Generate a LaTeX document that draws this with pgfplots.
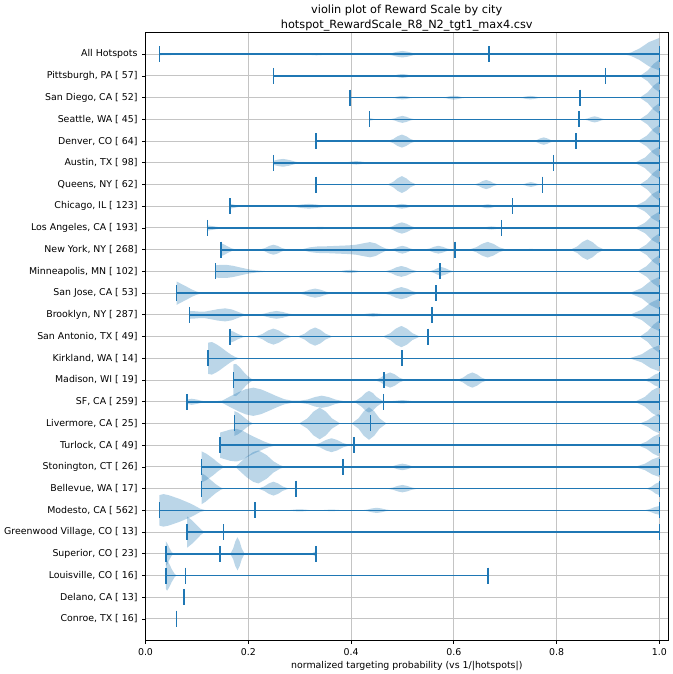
\documentclass[border=0pt]{standalone}
\usepackage{fontspec}
\setmainfont{DejaVu Sans}
\usepackage{pgfplots}
\usepackage{pgfplotstable}
\pgfplotsset{compat=1.18}
\definecolor{vblue}{HTML}{1F77B4}
\definecolor{gridgray}{HTML}{C4C4C4}

\pgfplotstableread[row sep=\\]{x w\\
0.027 0.05\\ 0.06 0.03\\ 0.1 0\\
0.303 0\\ 0.315 0.016\\ 0.324 0.038\\ 0.333 0.05\\ 0.342 0.038\\ 0.351 0.016\\ 0.363 0\\
0.465 0\\ 0.479 0.048\\ 0.4895 0.113\\ 0.5 0.15\\ 0.5105 0.113\\ 0.521 0.048\\ 0.535 0\\
0.93 0\\ 0.945 0.08\\ 0.961 0.26\\ 0.98 0.56\\ 1 0.75\\
}\tAll
\pgfplotstableread[row sep=\\]{x w\\
0.25 0\\ 0.475 0\\ 0.485 0.029\\ 0.4925 0.068\\ 0.5 0.09\\ 0.5075 0.068\\ 0.515 0.029\\ 0.525 0\\
0.962 0\\ 0.977 0.24\\ 0.989 0.56\\ 1 0.75\\
}\tPit
\pgfplotstableread[row sep=\\]{x w\\
0.398 0.02\\ 0.41 0\\
0.475 0\\ 0.485 0.026\\ 0.4925 0.06\\ 0.5 0.08\\ 0.5075 0.06\\ 0.515 0.026\\ 0.525 0\\
0.575 0\\ 0.585 0.029\\ 0.5925 0.068\\ 0.6 0.09\\ 0.6075 0.068\\ 0.615 0.029\\ 0.625 0\\
0.724 0\\ 0.734 0.026\\ 0.7415 0.06\\ 0.749 0.08\\ 0.7565 0.06\\ 0.764 0.026\\ 0.774 0\\
0.962 0\\ 0.977 0.24\\ 0.989 0.56\\ 1 0.75\\
}\tSD
\pgfplotstableread[row sep=\\]{x w\\
0.436 0.06\\ 0.442 0.03\\ 0.45 0\\
0.475 0\\ 0.485 0.051\\ 0.4925 0.12\\ 0.5 0.16\\ 0.5075 0.12\\ 0.515 0.051\\ 0.525 0\\
0.852 0\\ 0.8608 0.045\\ 0.8674 0.105\\ 0.874 0.14\\ 0.8806 0.105\\ 0.8872 0.045\\ 0.896 0\\
0.962 0\\ 0.977 0.24\\ 0.989 0.56\\ 1 0.75\\
}\tSea
\pgfplotstableread[row sep=\\]{x w\\
0.333 0\\
0.471 0\\ 0.4822 0.096\\ 0.4906 0.225\\ 0.499 0.3\\ 0.5074 0.225\\ 0.5158 0.096\\ 0.527 0\\
0.753 0\\ 0.7618 0.054\\ 0.7684 0.128\\ 0.775 0.17\\ 0.7816 0.128\\ 0.7882 0.054\\ 0.797 0\\
0.958 0\\ 0.975 0.24\\ 0.988 0.56\\ 1 0.75\\
}\tDen
\pgfplotstableread[row sep=\\]{x w\\
0.25 0.1\\ 0.258 0.15\\ 0.268 0.18\\ 0.28 0.13\\ 0.292 0.05\\ 0.305 0\\
0.38 0\\ 0.392 0.026\\ 0.401 0.06\\ 0.41 0.08\\ 0.419 0.06\\ 0.428 0.026\\ 0.44 0\\
0.952 0\\ 0.972 0.24\\ 0.986 0.56\\ 1 0.75\\
}\tAus
\pgfplotstableread[row sep=\\]{x w\\
0.333 0\\
0.471 0\\ 0.4822 0.125\\ 0.4906 0.29\\ 0.499 0.39\\ 0.5074 0.29\\ 0.5158 0.125\\ 0.527 0\\
0.639 0\\ 0.6486 0.067\\ 0.6558 0.158\\ 0.663 0.21\\ 0.6702 0.158\\ 0.6774 0.067\\ 0.687 0\\
0.73 0\\ 0.738 0.035\\ 0.744 0.083\\ 0.75 0.11\\ 0.756 0.083\\ 0.762 0.035\\ 0.77 0\\
0.962 0\\ 0.977 0.24\\ 0.989 0.56\\ 1 0.75\\
}\tQue
\pgfplotstableread[row sep=\\]{x w\\
0.165 0.11\\ 0.175 0.06\\ 0.188 0\\
0.273 0\\ 0.291 0.035\\ 0.3045 0.083\\ 0.318 0.11\\ 0.3315 0.083\\ 0.345 0.035\\ 0.363 0\\
0.474 0\\ 0.484 0.035\\ 0.4915 0.083\\ 0.499 0.11\\ 0.5065 0.083\\ 0.514 0.035\\ 0.524 0\\
0.644 0\\ 0.6528 0.029\\ 0.6594 0.068\\ 0.666 0.09\\ 0.6726 0.068\\ 0.6792 0.029\\ 0.688 0\\
0.952 0\\ 0.972 0.24\\ 0.986 0.56\\ 1 0.75\\
}\tChi
\pgfplotstableread[row sep=\\]{x w\\
0.121 0.12\\ 0.132 0.08\\ 0.145 0.03\\ 0.158 0\\
0.28 0\\ 0.304 0.016\\ 0.322 0.038\\ 0.34 0.05\\ 0.358 0.038\\ 0.376 0.016\\ 0.4 0\\
0.469 0\\ 0.481 0.083\\ 0.49 0.195\\ 0.499 0.26\\ 0.508 0.195\\ 0.517 0.083\\ 0.529 0\\
0.648 0\\ 0.658 0.022\\ 0.6655 0.053\\ 0.673 0.07\\ 0.6805 0.053\\ 0.688 0.022\\ 0.698 0\\
0.952 0\\ 0.972 0.24\\ 0.986 0.56\\ 1 0.75\\
}\tLA
\pgfplotstableread[row sep=\\]{x w\\
0.147 0.3\\ 0.153 0.24\\ 0.16 0.15\\ 0.168 0.06\\ 0.178 0\\
0.221 0\\ 0.2322 0.074\\ 0.2406 0.173\\ 0.249 0.23\\ 0.2574 0.173\\ 0.2658 0.074\\ 0.277 0\\
0.3 0\\ 0.31 0.05\\ 0.32 0.11\\ 0.335 0.15\\ 0.355 0.16\\ 0.375 0.18\\ 0.395 0.2\\ 0.41 0.23\\ 0.425 0.3\\ 0.437 0.35\\ 0.448 0.29\\ 0.458 0.16\\ 0.467 0.06\\ 0.476 0.02\\
0.485 0.06\\ 0.4925 0.135\\ 0.5 0.18\\ 0.5075 0.135\\ 0.515 0.058\\ 0.525 0\\
0.542 0\\ 0.5532 0.058\\ 0.5616 0.135\\ 0.57 0.18\\ 0.5784 0.135\\ 0.5868 0.058\\ 0.598 0\\
0.629 0\\ 0.6438 0.115\\ 0.6549 0.27\\ 0.666 0.36\\ 0.6771 0.27\\ 0.6882 0.115\\ 0.703 0\\
0.73 0\\ 0.75 0.04\\ 0.77 0\\
0.827 0\\ 0.8402 0.15\\ 0.8501 0.353\\ 0.86 0.47\\ 0.8699 0.353\\ 0.8798 0.15\\ 0.893 0\\
0.958 0\\ 0.975 0.24\\ 0.988 0.56\\ 1 0.75\\
}\tNY
\pgfplotstableread[row sep=\\]{x w\\
0.136 0.28\\ 0.145 0.3\\ 0.158 0.3\\ 0.17 0.26\\ 0.185 0.18\\ 0.2 0.1\\ 0.215 0.05\\ 0.235 0.015\\ 0.25 0\\
0.368 0\\ 0.38 0.022\\ 0.389 0.053\\ 0.398 0.07\\ 0.407 0.053\\ 0.416 0.022\\ 0.428 0\\
0.465 0\\ 0.4782 0.08\\ 0.4881 0.188\\ 0.498 0.25\\ 0.5079 0.188\\ 0.5178 0.08\\ 0.531 0\\
0.551 0\\ 0.561 0.064\\ 0.5685 0.15\\ 0.576 0.2\\ 0.5835 0.15\\ 0.591 0.064\\ 0.601 0\\
0.958 0\\ 0.975 0.24\\ 0.988 0.56\\ 1 0.75\\
}\tMin
\pgfplotstableread[row sep=\\]{x w\\
0.0605 0.54\\ 0.07 0.42\\ 0.08 0.3\\ 0.09 0.17\\ 0.1 0.07\\ 0.112 0\\
0.294 0\\ 0.3084 0.067\\ 0.3192 0.158\\ 0.33 0.21\\ 0.3408 0.158\\ 0.3516 0.067\\ 0.366 0\\
0.462 0\\ 0.4764 0.09\\ 0.4872 0.21\\ 0.498 0.28\\ 0.5088 0.21\\ 0.5196 0.09\\ 0.534 0\\
0.942 0\\ 0.966 0.24\\ 0.983 0.56\\ 1 0.75\\
}\tSJ
\pgfplotstableread[row sep=\\]{x w\\
0.086 0.18\\ 0.095 0.17\\ 0.105 0.15\\ 0.115 0.15\\ 0.125 0.19\\ 0.14 0.26\\ 0.155 0.3\\ 0.168 0.25\\ 0.18 0.14\\ 0.19 0.05\\ 0.2 0\\
0.215 0\\ 0.231 0.058\\ 0.243 0.135\\ 0.255 0.18\\ 0.267 0.135\\ 0.279 0.058\\ 0.295 0\\
0.408 0\\ 0.422 0.026\\ 0.4325 0.06\\ 0.443 0.08\\ 0.4535 0.06\\ 0.464 0.026\\ 0.478 0\\
0.942 0\\ 0.966 0.24\\ 0.983 0.56\\ 1 0.75\\
}\tBro
\pgfplotstableread[row sep=\\]{x w\\
0.165 0.28\\ 0.172 0.22\\ 0.18 0.12\\ 0.19 0.03\\ 0.198 0\\
0.213 0\\ 0.2274 0.118\\ 0.2382 0.278\\ 0.249 0.37\\ 0.2598 0.278\\ 0.2706 0.118\\ 0.285 0\\
0.296 0\\ 0.3096 0.134\\ 0.3198 0.315\\ 0.33 0.42\\ 0.3402 0.315\\ 0.3504 0.134\\ 0.364 0\\
0.462 0\\ 0.4764 0.157\\ 0.4872 0.368\\ 0.498 0.49\\ 0.5088 0.368\\ 0.5196 0.157\\ 0.534 0\\
0.962 0\\ 0.977 0.24\\ 0.989 0.56\\ 1 0.75\\
}\tSA
\pgfplotstableread[row sep=\\]{x w\\
0.122 0.72\\ 0.129 0.75\\ 0.137 0.66\\ 0.145 0.54\\ 0.158 0.31\\ 0.167 0.16\\ 0.175 0.06\\ 0.183 0\\
0.942 0\\ 0.966 0.19\\ 0.983 0.45\\ 1 0.6\\
}\tKir
\pgfplotstableread[row sep=\\]{x w\\
0.171 0.72\\ 0.176 0.74\\ 0.183 0.6\\ 0.19 0.4\\ 0.198 0.2\\ 0.206 0.06\\ 0.213 0\\
0.446 0\\ 0.458 0.112\\ 0.467 0.263\\ 0.476 0.35\\ 0.485 0.263\\ 0.494 0.112\\ 0.506 0\\
0.606 0\\ 0.618 0.112\\ 0.627 0.263\\ 0.636 0.35\\ 0.645 0.263\\ 0.654 0.112\\ 0.666 0\\
0.97 0\\ 0.982 0.106\\ 0.991 0.248\\ 1 0.33\\
}\tMad
\pgfplotstableread[row sep=\\]{x w\\
0.081 0.1\\ 0.09 0.14\\ 0.1 0.1\\ 0.11 0.04\\ 0.12 0.01\\ 0.135 0.02\\ 0.15 0.06\\ 0.165 0.25\\ 0.18 0.43\\ 0.195 0.58\\ 0.21 0.65\\ 0.225 0.57\\ 0.24 0.42\\ 0.255 0.26\\ 0.27 0.12\\ 0.285 0.05\\ 0.3 0.05\\
0.315 0.1\\ 0.33 0.22\\ 0.343 0.28\\ 0.356 0.22\\ 0.37 0.1\\ 0.385 0.03\\ 0.4 0.02\\
0.41 0.06\\ 0.42 0.22\\ 0.428 0.41\\ 0.435 0.5\\ 0.442 0.41\\ 0.45 0.22\\ 0.46 0.06\\ 0.47 0.02\\
0.485 0.04\\ 0.5 0.08\\ 0.515 0.04\\ 0.53 0\\
0.952 0\\ 0.972 0.224\\ 0.986 0.525\\ 1 0.7\\
}\tSF
\pgfplotstableread[row sep=\\]{x w\\
0.173 0.57\\ 0.18 0.5\\ 0.187 0.38\\ 0.195 0.22\\ 0.203 0.08\\ 0.21 0\\
0.299 0\\ 0.315 0.234\\ 0.327 0.548\\ 0.339 0.73\\ 0.351 0.548\\ 0.363 0.234\\ 0.379 0\\
0.401 0\\ 0.4146 0.24\\ 0.4248 0.563\\ 0.435 0.75\\ 0.4452 0.563\\ 0.4554 0.24\\ 0.469 0\\
0.962 0\\ 0.977 0.144\\ 0.989 0.338\\ 1 0.45\\
}\tLiv
\pgfplotstableread[row sep=\\]{x w\\
0.145 0.58\\ 0.155 0.65\\ 0.165 0.72\\ 0.177 0.75\\ 0.188 0.68\\ 0.2 0.52\\ 0.21 0.4\\ 0.22 0.29\\ 0.23 0.18\\ 0.24 0.09\\ 0.25 0.03\\ 0.26 0\\
0.325 0\\ 0.3398 0.102\\ 0.3509 0.24\\ 0.362 0.32\\ 0.3731 0.24\\ 0.3842 0.102\\ 0.399 0\\
0.958 0\\ 0.975 0.166\\ 0.988 0.39\\ 1 0.52\\
}\tTur
\pgfplotstableread[row sep=\\]{x w\\
0.109 0.72\\ 0.119 0.6\\ 0.132 0.38\\ 0.14 0.22\\ 0.148 0.08\\ 0.155 0\\
0.175 0\\ 0.184 0.2\\ 0.197 0.48\\ 0.21 0.69\\ 0.22 0.76\\ 0.236 0.54\\ 0.249 0.26\\ 0.262 0.08\\ 0.272 0\\
0.472 0\\ 0.4832 0.048\\ 0.4916 0.113\\ 0.5 0.15\\ 0.5084 0.113\\ 0.5168 0.048\\ 0.528 0\\
0.952 0\\ 0.972 0.147\\ 0.986 0.345\\ 1 0.46\\
}\tSto
\pgfplotstableread[row sep=\\]{x w\\
0.109 0.72\\ 0.117 0.6\\ 0.127 0.4\\ 0.137 0.2\\ 0.146 0.06\\ 0.152 0\\
0.219 0\\ 0.231 0.102\\ 0.24 0.24\\ 0.249 0.32\\ 0.258 0.24\\ 0.267 0.102\\ 0.279 0\\
0.47 0\\ 0.482 0.054\\ 0.491 0.128\\ 0.5 0.17\\ 0.509 0.128\\ 0.518 0.054\\ 0.53 0\\
0.975 0\\ 0.985 0.096\\ 0.9925 0.225\\ 1 0.3\\
}\tBel
\pgfplotstableread[row sep=\\]{x w\\
0.027 0.7\\ 0.035 0.75\\ 0.045 0.7\\ 0.055 0.62\\ 0.067 0.52\\ 0.077 0.42\\ 0.087 0.32\\ 0.097 0.2\\ 0.106 0.08\\ 0.115 0.02\\ 0.125 0\\
0.27 0\\ 0.282 0.016\\ 0.291 0.038\\ 0.3 0.05\\ 0.309 0.038\\ 0.318 0.016\\ 0.33 0\\
0.337 0\\ 0.362 0.04\\ 0.387 0\\
0.42 0\\ 0.432 0.038\\ 0.441 0.09\\ 0.45 0.12\\ 0.459 0.09\\ 0.468 0.038\\ 0.48 0\\
0.97 0\\ 0.982 0.064\\ 0.991 0.15\\ 1 0.2\\
}\tMod
\pgfplotstableread[row sep=\\]{x w\\
0.081 0.72\\ 0.09 0.55\\ 0.1 0.32\\ 0.108 0.12\\ 0.115 0\\
}\tGre
\pgfplotstableread[row sep=\\]{x w\\
0.0395 0.58\\ 0.043 0.45\\ 0.047 0.25\\ 0.051 0.08\\ 0.055 0\\
0.165 0\\ 0.1706 0.243\\ 0.1748 0.57\\ 0.179 0.76\\ 0.1832 0.57\\ 0.1874 0.243\\ 0.193 0\\
0.322 0\\ 0.327 0.06\\ 0.332 0.14\\
}\tSup
\pgfplotstableread[row sep=\\]{x w\\
0.0395 0.6\\ 0.042 0.7\\ 0.046 0.55\\ 0.051 0.3\\ 0.056 0.1\\ 0.06 0\\
}\tLou

% mirror each half-profile into a closed outline: upper side forward, lower side back
\newcommand{\mkviolin}[1]{%
  \pgfplotstablesort[sort key=x, sort cmp=float >]{\tmprev}{#1}%
  \pgfplotstablecreatecol[create col/expr={\thisrow{w}}]{v}{#1}%
  \pgfplotstablecreatecol[create col/expr={-\thisrow{w}}]{v}{\tmprev}%
  \pgfplotstablevertcat{#1}{\tmprev}%
}
\mkviolin{\tAll}\mkviolin{\tPit}\mkviolin{\tSD}\mkviolin{\tSea}\mkviolin{\tDen}
\mkviolin{\tAus}\mkviolin{\tQue}\mkviolin{\tChi}\mkviolin{\tLA}\mkviolin{\tNY}
\mkviolin{\tMin}\mkviolin{\tSJ}\mkviolin{\tBro}\mkviolin{\tSA}\mkviolin{\tKir}
\mkviolin{\tMad}\mkviolin{\tSF}\mkviolin{\tLiv}\mkviolin{\tTur}\mkviolin{\tSto}
\mkviolin{\tBel}\mkviolin{\tMod}\mkviolin{\tGre}\mkviolin{\tSup}\mkviolin{\tLou}

\newcommand{\violin}[2]{%
  \addplot[fill=vblue, fill opacity=0.3, draw=none] table[x=x, y expr={#1+\thisrow{v}}] {#2};
}
\newcommand{\stats}[4]{%
  \addplot[vblue, line width=1.6pt, mark=|, mark size=8pt, mark options={solid, line width=1.6pt}] coordinates {(#2,#1) (#3,#1) (#4,#1)};
}

\begin{document}
\begin{tikzpicture}
\path[use as bounding box] (0,0) rectangle (672pt,674pt);
\begin{axis}[
  at={(145.5pt,33.3pt)}, anchor=south west,
  scale only axis, width=522.5pt, height=608.2pt,
  xmin=0, xmax=1.0169, ymin=0, ymax=28,
  xtick={0,0.2,0.4,0.6,0.8,1.0},
  xticklabels={0.0,0.2,0.4,0.6,0.8,1.0},
  ytick={1,...,27},
  yticklabels={{Conroe, TX [ 16]},{Delano, CA [ 13]},{Louisville, CO [ 16]},{Superior, CO [ 23]},{Greenwood Village, CO [ 13]},{Modesto, CA [ 562]},{Bellevue, WA [ 17]},{Stonington, CT [ 26]},{Turlock, CA [ 49]},{Livermore, CA [ 25]},{SF, CA [ 259]},{Madison, WI [ 19]},{Kirkland, WA [ 14]},{San Antonio, TX [ 49]},{Brooklyn, NY [ 287]},{San Jose, CA [ 53]},{Minneapolis, MN [ 102]},{New York, NY [ 268]},{Los Angeles, CA [ 193]},{Chicago, IL [ 123]},{Queens, NY [ 62]},{Austin, TX [ 98]},{Denver, CO [ 64]},{Seattle, WA [ 45]},{San Diego, CA [ 52]},{Pittsburgh, PA [ 57]},{All Hotspots}},
  tick align=outside, tick pos=left,
  major tick length=3.3pt,
  tick style={line width=0.75pt, black},
  axis line style={line width=0.75pt, black},
  grid=major,
  major grid style={line width=1pt, gridgray},
  tick label style={font=\fontsize{9.4}{11.3}\selectfont},
  yticklabel style={anchor=east, inner sep=0pt, xshift=-4.5pt},
  xticklabel style={anchor=base, inner sep=0pt, yshift=-11.6pt},
  xlabel={normalized targeting probability (vs 1/|hotspots|)},
  xlabel style={font=\fontsize{9.4}{11.3}\selectfont, at={(axis description cs:0.5,0)}, anchor=base, inner sep=0pt, yshift=-27.8pt},
  title={violin plot of Reward Scale by city\\hotspot\_RewardScale\_R8\_N2\_tgt1\_max4.csv},
  title style={font=\fontsize{11.3}{14.2}\selectfont, align=center, at={(axis description cs:0.5,1)}, anchor=south, inner sep=0pt, yshift=-4.5pt},
]
\violin{27}{\tAll}
\violin{26}{\tPit}
\violin{25}{\tSD}
\violin{24}{\tSea}
\violin{23}{\tDen}
\violin{22}{\tAus}
\violin{21}{\tQue}
\violin{20}{\tChi}
\violin{19}{\tLA}
\violin{18}{\tNY}
\violin{17}{\tMin}
\violin{16}{\tSJ}
\violin{15}{\tBro}
\violin{14}{\tSA}
\violin{13}{\tKir}
\violin{12}{\tMad}
\violin{11}{\tSF}
\violin{10}{\tLiv}
\violin{9}{\tTur}
\violin{8}{\tSto}
\violin{7}{\tBel}
\violin{6}{\tMod}
\violin{5}{\tGre}
\violin{4}{\tSup}
\violin{3}{\tLou}
\stats{27}{0.027}{0.668}{1}
\stats{26}{0.249}{0.895}{1}
\stats{25}{0.398}{0.846}{1}
\stats{24}{0.436}{0.844}{1}
\stats{23}{0.332}{0.8375}{1}
\stats{22}{0.249}{0.794}{1}
\stats{21}{0.332}{0.773}{1}
\stats{20}{0.165}{0.714}{1}
\stats{19}{0.121}{0.693}{1}
\stats{18}{0.147}{0.602}{1}
\stats{17}{0.136}{0.573}{1}
\stats{16}{0.0605}{0.565}{1}
\stats{15}{0.086}{0.557}{1}
\stats{14}{0.165}{0.55}{1}
\stats{13}{0.122}{0.499}{1}
\stats{12}{0.171}{0.464}{1}
\stats{11}{0.081}{0.463}{1}
\stats{10}{0.173}{0.438}{1}
\stats{9}{0.145}{0.406}{1}
\stats{8}{0.109}{0.384}{1}
\stats{7}{0.109}{0.293}{1}
\stats{6}{0.027}{0.213}{1}
\stats{5}{0.081}{0.152}{1}
\stats{4}{0.0395}{0.145}{0.332}
\stats{3}{0.0395}{0.078}{0.666}
\stats{2}{0.075}{0.075}{0.075}
\stats{1}{0.0605}{0.0605}{0.0605}
\end{axis}
\end{tikzpicture}
\end{document}
